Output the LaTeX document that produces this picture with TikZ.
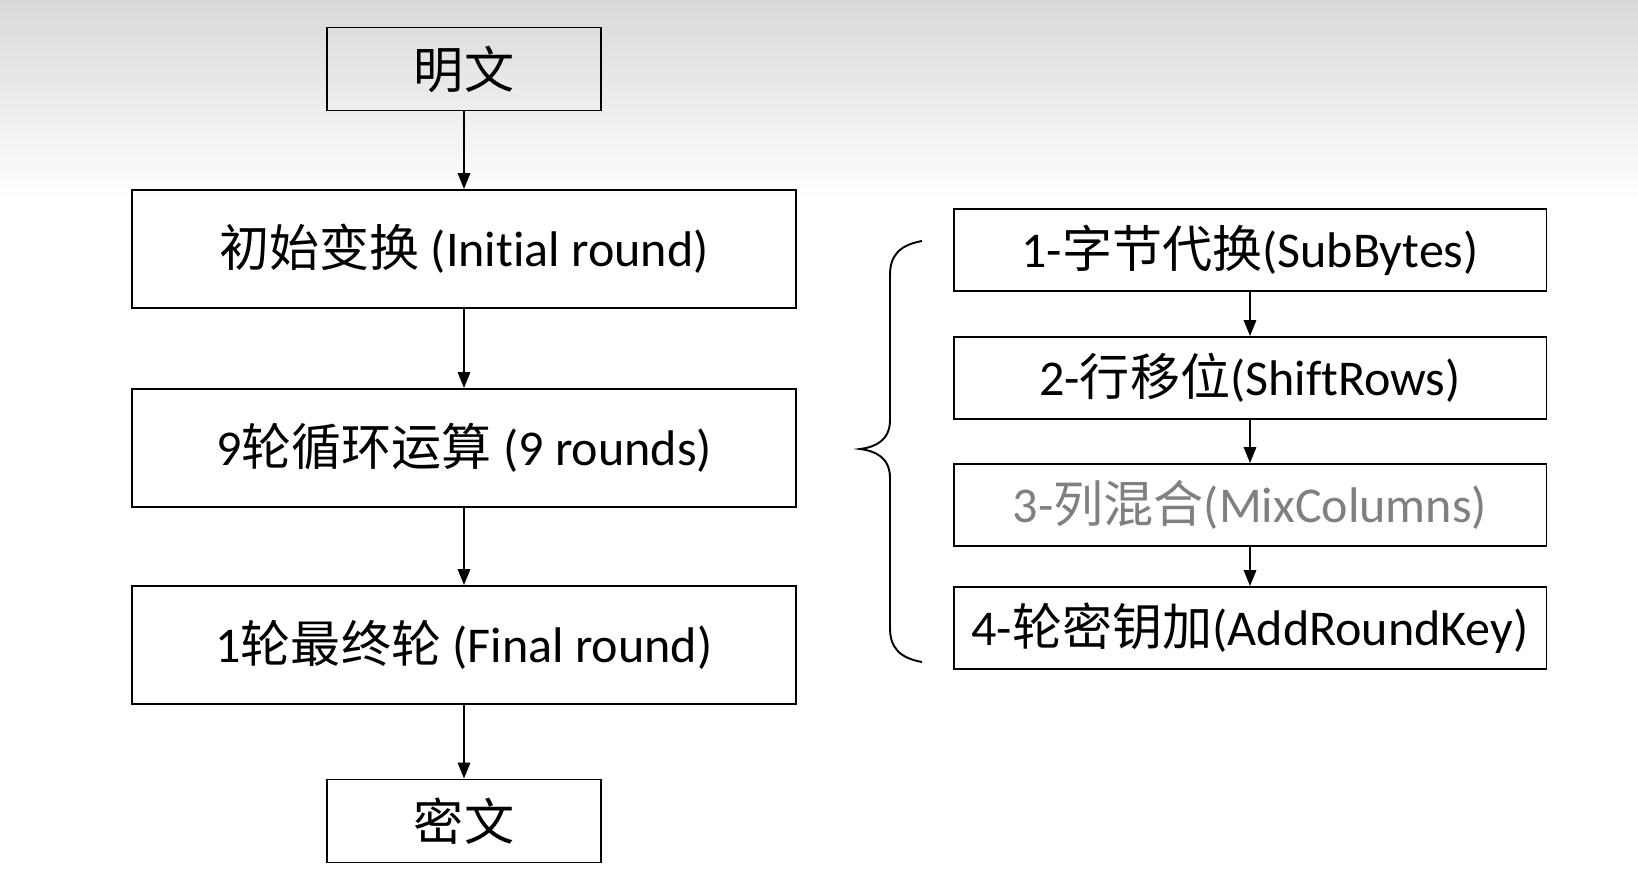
\documentclass[tikz,border=0pt]{standalone}
\usepackage{fontspec}
\setmainfont[Ligatures=NoCommon]{Carlito}
\newfontfamily\cjk{Noto Sans CJK SC}
\usetikzlibrary{arrows.meta}

\tikzset{
  stepbox/.style={draw, line width=1.1pt, inner sep=0pt, align=center,
    font=\fontsize{28.5}{32}\selectfont},
  endbox/.style={stepbox, minimum width=5.48cm, minimum height=1.66cm},
  mainbox/.style={stepbox, minimum width=13.28cm, minimum height=2.36cm},
  subbox/.style={stepbox, minimum width=11.86cm, minimum height=1.64cm},
  flow/.style={line width=1.1pt, -{Triangle[length=9pt,width=7pt]}}
}

\begin{document}
\begin{tikzpicture}[x=0.02cm, y=-0.02cm]
\useasboundingbox (0,0) rectangle (1638,892);
\fill[white] (0,0) rectangle (1638,892);
\shade[top color=black!15, bottom color=white] (0,0) rectangle (1638,200);

% left column
\node[endbox]  (plain)  at (464,69)  {{\cjk 明文}};
\node[mainbox] (init)   at (464,249) {{\cjk 初始变换} (Initial round)};
\node[mainbox] (rounds) at (464,448) {9{\cjk 轮循环运算} (9 rounds)};
\node[mainbox] (final)  at (464,645) {1{\cjk 轮最终轮} (Final round)};
\node[endbox]  (cipher) at (464,821) {{\cjk 密文}};

\draw[flow] (plain) -- (init);
\draw[flow] (init) -- (rounds);
\draw[flow] (rounds) -- (final);
\draw[flow] (final) -- (cipher);

% one round
\node[subbox] (sub)   at (1250,250) {1-{\cjk 字节代换}(SubBytes)};
\node[subbox] (shift) at (1250,378) {2-{\cjk 行移位}(ShiftRows)};
\node[subbox, text=black!50] (mix) at (1250,505) {3-{\cjk 列混合}(MixColumns)};
\node[subbox] (add)   at (1250,628) {4-{\cjk 轮密钥加}(AddRoundKey)};

\draw[flow] (sub) -- (shift);
\draw[flow] (shift) -- (mix);
\draw[flow] (mix) -- (add);

% brace
\draw[line width=1.1pt] (922,241) .. controls (900,245) and (890,255) .. (890,275)
  -- (890,420) .. controls (890,440) and (876,447) .. (860,449)
  .. controls (876,451) and (890,458) .. (890,478)
  -- (890,628) .. controls (890,648) and (900,658) .. (922,662);
\end{tikzpicture}
\end{document}
